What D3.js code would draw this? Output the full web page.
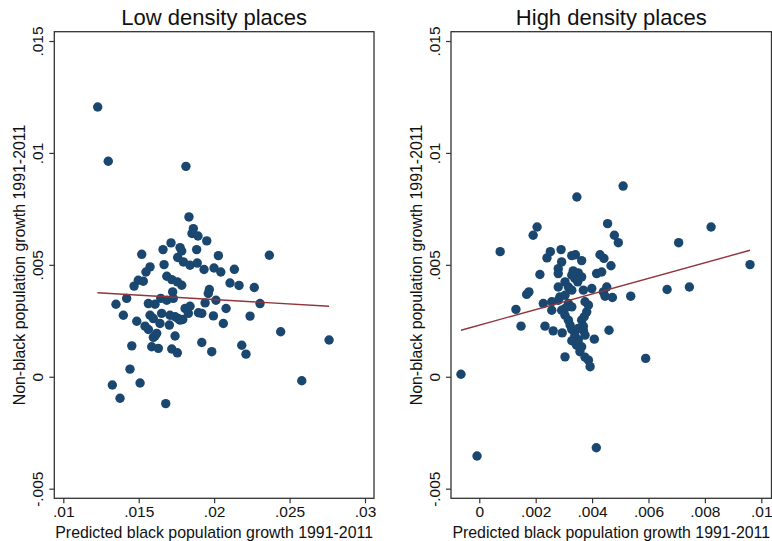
<!DOCTYPE html>
<html>
<head>
<meta charset="utf-8">
<script src="https://cdn.jsdelivr.net/npm/d3@7"></script>
<style>
body { margin: 0; background: #fff; }
svg { display: block; font-family: "Liberation Sans", Arial, sans-serif; }
</style>
</head>
<body>
<svg id="chart" width="772" height="541"></svg>
<script>
// predicted black growth (x), non-black growth (y)
var lowDensity = [
  [.01228,.01205],[.01298,.00963],[.01813,.0094],[.01833,.00714],[.01862,.00662],[.01853,.0064],
  [.01893,.00629],[.01951,.00607],[.01714,.00598],[.01661,.00568],[.01774,.00577],[.01785,.00562],
  [.01884,.00568],[.0152,.00547],[.02028,.00541],[.02366,.00543],[.01758,.00533],[.01796,.00513],
  [.0184,.00498],[.01888,.00508],[.01933,.00479],[.01999,.00486],[.02044,.00468],[.02134,.0048],
  [.01668,.00501],[.01575,.00491],[.01548,.00468],[.01686,.00449],[.01719,.00434],[.01756,.00424],
  [.01785,.00409],[.01497,.00431],[.0153,.00427],[.01469,.00405],[.02105,.00419],[.02165,.00408],
  [.02266,.00399],[.01968,.0039],[.01961,.00372],[.01725,.00379],[.0142,.0035],[.01349,.00324],
  [.01398,.00275],[.01487,.00248],[.01564,.00327],[.01608,.00324],[.01646,.0035],[.01686,.00342],
  [.01729,.0035],[.01575,.00275],[.01597,.0026],[.01652,.00283],[.01707,.00275],[.01741,.00268],
  [.01762,.0026],[.01807,.00305],[.0184,.00315],[.01829,.00283],[.01918,.00283],[.01896,.00286],
  [.0194,.0033],[.02012,.00342],[.02079,.00305],[.01995,.00272],[.02304,.00327],[.02238,.00271],
  [.02061,.00238],[.01542,.00226],[.01564,.00211],[.01641,.00238],[.01703,.00231],[.01774,.00253],
  [.01608,.00182],[.01597,.00176],[.01619,.00194],[.01741,.00182],[.01454,.00138],[.01586,.00134],
  [.0163,.00127],[.01719,.00124],[.01756,.00107],[.01918,.00153],[.01984,.00112],[.02183,.00141],
  [.02211,.00101],[.02441,.00201],[.02762,.00164],[.01442,.00034],[.01325,-.00037],[.01509,-.00028],
  [.01376,-.00096],[.01679,-.0012],[.02581,-.00018],[.01792,.00256]
];
var highDensity = [
  [.0051,.00852],[.00346,.00803],[.00455,.00684],[.00205,.00669],[.00191,.00632],[.00822,.00669],
  [.00479,.00632],[.00493,.00599],[.00707,.00599],[.00074,.00559],[.0029,.00568],[.00252,.00559],
  [.0024,.00531],[.00292,.00513],[.00328,.00541],[.00341,.00545],[.00363,.00519],[.00428,.00545],
  [.00442,.00529],[.00467,.00496],[.0096,.00501],[.0028,.00483],[.0028,.00461],[.00215,.00457],
  [.00333,.00473],[.00351,.00464],[.00363,.00446],[.00339,.00439],[.00328,.00454],[.00349,.00424],
  [.00416,.00461],[.00434,.00468],[.00304,.00424],[.0028,.00401],[.00316,.00401],[.00328,.00387],
  [.00176,.00379],[.00168,.00368],[.00369,.00387],[.00399,.00394],[.00452,.00401],[.0044,.00379],
  [.00446,.0036],[.00472,.00354],[.00537,.0036],[.00666,.0039],[.00745,.00401],[.00286,.00357],
  [.00304,.00364],[.0028,.00342],[.00257,.00335],[.00227,.00327],[.00316,.00327],[.00328,.00312],
  [.00304,.00305],[.00292,.00297],[.00375,.00335],[.00387,.0032],[.00381,.0029],[.00372,.00268],
  [.00257,.00297],[.0013,.00301],[.00304,.00275],[.00316,.00253],[.00322,.00231],[.00363,.00253],
  [.00369,.00226],[.00233,.00226],[.00148,.00226],[.00262,.00205],[.00294,.00196],[.00328,.00211],
  [.00351,.00216],[.00369,.00208],[.00375,.00186],[.00339,.00186],[.00328,.00161],[.00408,.00168],
  [.0046,.00208],[.00351,.00164],[.00345,.00141],[.00363,.00134],[.00357,.00112],[.00375,.00087],
  [.00304,.00089],[.00387,.00074],[.00393,.00045],[.0059,.00082],[-.00065,.00011],[-.00008,-.00354],
  [.00415,-.00317]
];
// fitted lines, endpoints
var lowFit = [[.01226,.00375],[.02762,.00315]];
var highFit = [[-.00065,.00208],[.0096,.00565]];

var yTicks = [-.005, 0, .005, .01, .015];
var yTickLabels = ["-.005", "0", ".005", ".01", ".015"];
var lowXTicks = [.01, .015, .02, .025, .03];
var lowXTickLabels = [".01", ".015", ".02", ".025", ".03"];
var highXTicks = [0, .002, .004, .006, .008, .01];
var highXTickLabels = ["0", ".002", ".004", ".006", ".008", ".01"];

var yDomain = [-.00543, .015416];
var lowXDomain = [.009403, .030597];
var highXDomain = [-.001003, .010362];

var svg = d3.select("#chart");

function panel(opts){
	var g = svg.append("g");
	var x = d3.scaleLinear().domain(opts.xDomain).range([opts.left, opts.right]);
	var y = d3.scaleLinear().domain(yDomain).range([498.3, 31.7]);

	// frame
	g.append("rect")
	.attr("x", opts.left).attr("y", 31.7)
	.attr("width", opts.right - opts.left).attr("height", 498.3 - 31.7)
	.attr("fill", "#fff").attr("stroke", "#333").attr("stroke-width", 1.3);

	// x axis
	var xaxis = d3.axisBottom(x).tickValues(opts.xTicks).tickSize(5).tickSizeOuter(0)
		.tickFormat(function(d, i){ return opts.xTickLabels[i]; });
	var gx = g.append("g").attr("transform", "translate(0,498.3)").call(xaxis);
	gx.select(".domain").remove();
	gx.selectAll("line").attr("stroke", "#333").attr("stroke-width", 1.2);
	gx.selectAll("text").attr("y", 7.5).attr("dy", "0.71em")
	.style("font-size", "15.5px").attr("fill", "#111");

	// y axis, labels rotated like Stata
	var yaxis = d3.axisLeft(y).tickValues(yTicks).tickSize(5).tickSizeOuter(0)
		.tickFormat(function(d, i){ return yTickLabels[i]; });
	var gy = g.append("g").attr("transform", "translate(" + opts.left + ",0)").call(yaxis);
	gy.select(".domain").remove();
	gy.selectAll("line").attr("stroke", "#333").attr("stroke-width", 1.2);
	gy.selectAll("text")
	.attr("x", null).attr("dy", null)
	.attr("transform", "translate(-11,0)rotate(-90)")
	.style("text-anchor", "middle")
	.style("font-size", "15.5px").attr("fill", "#111");

	// points
	g.append("g").selectAll("circle")
	.data(opts.data)
	.enter()
	.append("circle")
	.attr("cx", function(d){ return x(d[0]); })
	.attr("cy", function(d){ return y(d[1]); })
	.attr("r", 4.7)
	.attr("fill", "#1a476f");

	// fit
	g.append("path")
	.datum(opts.fit)
	.attr("d", d3.line().x(function(d){ return x(d[0]); }).y(function(d){ return y(d[1]); }))
	.attr("fill", "none").attr("stroke", "#90353b").attr("stroke-width", 1.4);

	var cx = (opts.left + opts.right) / 2;
	g.append("text")
	.attr("x", cx).attr("y", 25)
	.style("text-anchor", "middle").style("font-size", "22px").attr("fill", "#111")
	.text(opts.title);

	g.append("text")
	.attr("x", cx).attr("y", 537.5)
	.style("text-anchor", "middle").style("font-size", "15.9px").attr("fill", "#111")
	.text("Predicted black population growth 1991-2011");

	g.append("text")
	.attr("transform", "translate(" + (opts.left - 29.5) + "," + ((31.7 + 498.3) / 2) + ")rotate(-90)")
	.style("text-anchor", "middle").style("font-size", "15.9px").attr("fill", "#111")
	.text("Non-black population growth 1991-2011");
}

panel({left: 54.3, right: 374, xDomain: lowXDomain, xTicks: lowXTicks, xTickLabels: lowXTickLabels,
	data: lowDensity, fit: lowFit, title: "Low density places"});
panel({left: 451, right: 771.5, xDomain: highXDomain, xTicks: highXTicks, xTickLabels: highXTickLabels,
	data: highDensity, fit: highFit, title: "High density places"});
</script>
</body>
</html>
